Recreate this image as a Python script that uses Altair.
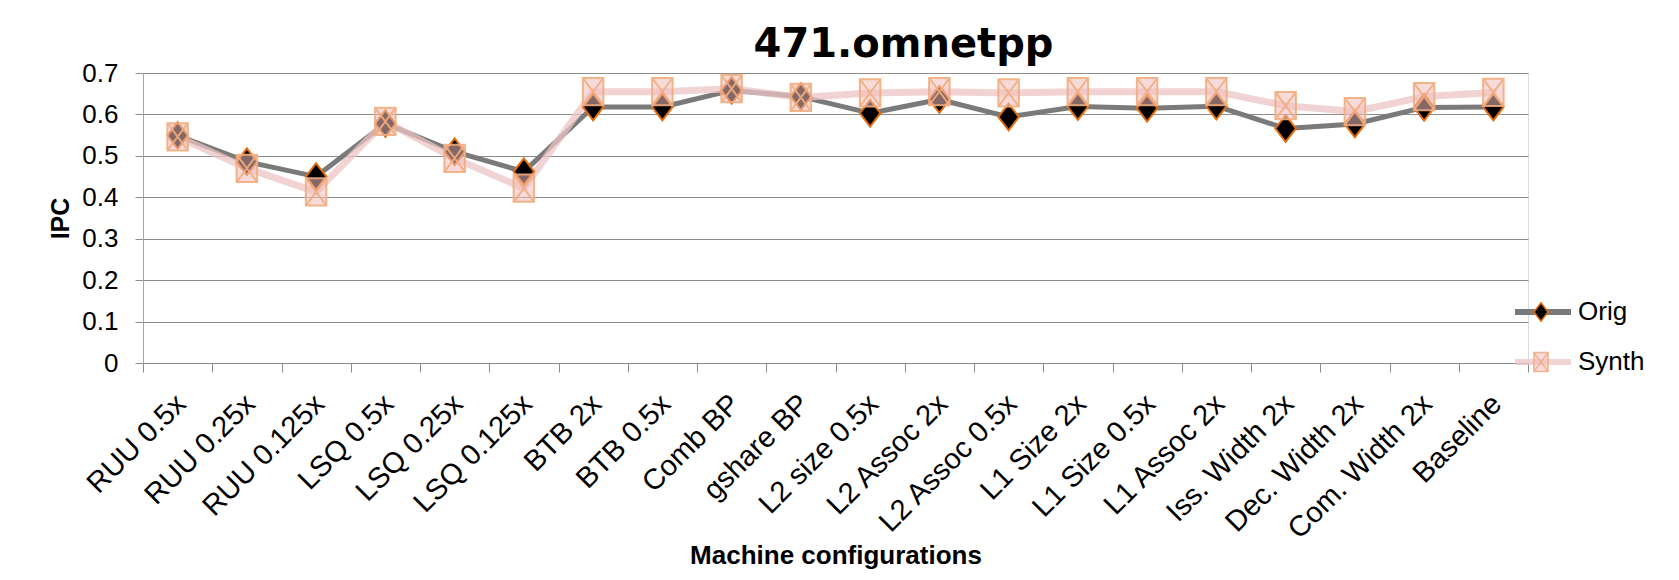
import altair as alt
import pandas as pd

categories = ["RUU 0.5x", "RUU 0.25x", "RUU 0.125x", "LSQ 0.5x", "LSQ 0.25x",
              "LSQ 0.125x", "BTB 2x", "BTB 0.5x", "Comb BP", "gshare BP",
              "L2 size 0.5x", "L2 Assoc 2x", "L2 Assoc 0.5x", "L1 Size 2x",
              "L1 Size 0.5x", "L1 Assoc 2x", "Iss. Width 2x", "Dec. Width 2x",
              "Com. Width 2x", "Baseline"]
orig_ipc = [0.549, 0.486, 0.450, 0.578, 0.510, 0.462, 0.618, 0.618, 0.658, 0.643,
            0.603, 0.636, 0.594, 0.619, 0.615, 0.620, 0.566, 0.577, 0.617, 0.618]
synth_ipc = [0.546, 0.470, 0.413, 0.583, 0.494, 0.422, 0.655, 0.655, 0.662, 0.641,
             0.652, 0.655, 0.652, 0.655, 0.655, 0.655, 0.621, 0.607, 0.643, 0.653]
series_names = ["Orig", "Synth"]
y_ticks = [0, 0.1, 0.2, 0.3, 0.4, 0.5, 0.6, 0.7]

rows = []
for c, v in zip(categories, orig_ipc):
    rows.append({"Config": c, "IPC": v, "Series": series_names[0]})
for c, v in zip(categories, synth_ipc):
    rows.append({"Config": c, "IPC": v, "Series": series_names[1]})
df = pd.DataFrame(rows)
df["Marker"] = df["Series"]

FONT = "Liberation Sans"
W, H = 1385, 290
GRID = "#8C8C8C"

DIAMOND = "M0,-1.3L1,0L0,1.3L-1,0Z"
SQUARE_X = "M-1,-1.33H1V1.33H-1Z M-1,-1.33L1,1.33 M-1,1.33L1,-1.33"

x_enc = alt.X(
    "Config:N", sort=categories,
    scale=alt.Scale(paddingInner=0, paddingOuter=0),
    axis=alt.Axis(
        title="Machine configurations", labelAngle=-45, labelFontSize=29,
        labelFont=FONT, labelColor="#000000", tickBand="extent", tickSize=9,
        tickColor=GRID, domainColor=GRID, labelPadding=17, labelOffset=-7,
        labelLimit=500,
        titleFontSize=26, titleFont=FONT, titleFontWeight="bold",
        titleColor="#000000", titleX=W / 2, titleY=200, titleAlign="center",
        titleBaseline="alphabetic", labelOverlap=False,
    ),
)
y_enc = alt.Y(
    "IPC:Q",
    scale=alt.Scale(domain=[0, 0.7], nice=False, zero=True),
    axis=alt.Axis(
        title="IPC", values=y_ticks, format=".1~f", grid=True, gridColor=GRID,
        gridWidth=1, tickSize=8, tickColor=GRID, domainColor="#A6A6A6",
        labelFontSize=26, labelFont=FONT, labelColor="#000000", labelPadding=17,
        titleFontSize=25, titleFont=FONT, titleFontWeight="bold",
        titleColor="#000000", titleX=-83, titleY=H / 2, titleAngle=-90,
        titleAlign="center", titleBaseline="middle",
    ),
)

legA = alt.Legend(
    title=None, orient="none", legendX=1369, legendY=214, symbolType="stroke",
    symbolSize=3136, symbolStrokeWidth=6, clipHeight=50, rowPadding=0,
    labelFontSize=26, labelFont=FONT, labelColor="#000000", labelOffset=4,
    padding=0,
)
legB = alt.Legend(
    title=None, orient="none", legendX=1390, legendY=214, symbolSize=200,
    symbolStrokeWidth=1.5, clipHeight=50, rowPadding=0, labelExpr="''",
    padding=0,
)

color_scale = alt.Scale(range=["#7A7A7A", "rgba(238,196,196,0.75)"])

orig_line = alt.Chart(df).transform_filter(
    alt.datum.Series == series_names[0]
).mark_line(strokeWidth=5, strokeCap="round", strokeJoin="round").encode(
    x=x_enc, y=y_enc,
    color=alt.Color("Series:N", scale=color_scale, legend=legA),
)
synth_line = alt.Chart(df).transform_filter(
    alt.datum.Series == series_names[1]
).mark_line(strokeWidth=7, strokeCap="round", strokeJoin="round").encode(
    x=x_enc, y=y_enc,
    color=alt.Color("Series:N", scale=color_scale, legend=legA),
)
points = alt.Chart(df).mark_point(filled=True, size=420, strokeWidth=2, opacity=1).encode(
    x=x_enc, y=y_enc,
    shape=alt.Shape("Marker:N", scale=alt.Scale(range=[DIAMOND, SQUARE_X]), legend=legB),
    fill=alt.Fill("Marker:N", scale=alt.Scale(range=["#000000", "rgba(240,190,190,0.55)"]), legend=legB),
    stroke=alt.Stroke("Marker:N", scale=alt.Scale(range=["#E46C0A", "rgba(242,172,125,0.9)"]), legend=legB),
)

chart = alt.layer(orig_line, synth_line, points).properties(
    width=W, height=H,
    title=alt.TitleParams(
        "471.omnetpp", font="DejaVu Sans", fontSize=40, fontWeight="bold",
        color="#000000", anchor="middle", dx=68, dy=5, offset=0,
    ),
    autosize=alt.AutoSizeParams(type="none"),
    padding={"left": 135, "top": 65, "right": 135, "bottom": 208},
).configure_view(stroke=None).configure(background="white")

chart.save("out.html", embed_options={"renderer": "svg", "actions": False})
